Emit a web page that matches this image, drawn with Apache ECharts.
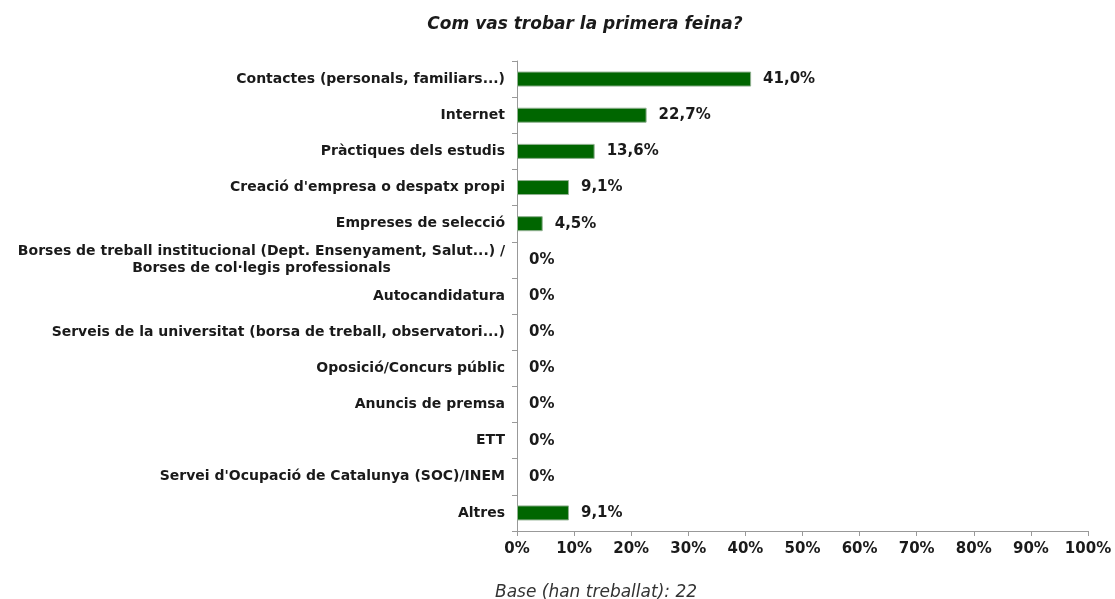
<!DOCTYPE html>
<html>
<head>
<meta charset="utf-8">
<script src="https://cdn.jsdelivr.net/npm/echarts@6/dist/echarts.min.js"></script>
<style>
  html, body { margin: 0; padding: 0; background: #fff; }
  #main { width: 1115px; height: 599px; }
</style>
</head>
<body>
<div id="main"></div>
<script>
var categories = [
  "Contactes (personals, familiars...)",
  "Internet",
  "Pràctiques dels estudis",
  "Creació d'empresa o despatx propi",
  "Empreses de selecció",
  "Borses de treball institucional (Dept. Ensenyament, Salut...) /\nBorses de col·legis professionals",
  "Autocandidatura",
  "Serveis de la universitat (borsa de treball, observatori...)",
  "Oposició/Concurs públic",
  "Anuncis de premsa",
  "ETT",
  "Servei d'Ocupació de Catalunya (SOC)/INEM",
  "Altres"
];
var values = [41.0, 22.7, 13.6, 9.1, 4.5, 0, 0, 0, 0, 0, 0, 0, 9.1];
var xTicks = [0, 10, 20, 30, 40, 50, 60, 70, 80, 90, 100];

var font = "DejaVu Sans, Verdana, sans-serif";
var dom = document.getElementById("main");
var myChart = echarts.init(dom, null, { renderer: "canvas" });

function pct(v) {
  if (v === 0) return "0%";
  return v.toFixed(1).replace(".", ",") + "%";
}

// zero bars get no outline, otherwise a thin line shows at the axis
var barData = values.map(function (v) {
  return v === 0 ? { value: v, itemStyle: { borderWidth: 0 } } : v;
});

var option = {
  backgroundColor: "#fff",
  title: [
    {
      text: "Com vas trobar la primera feina?",
      left: 580,
      top: 11,
      textAlign: "center",
      textStyle: { fontFamily: font, fontSize: 17, fontStyle: "italic", fontWeight: "bold", color: "#1a1a1a" }
    },
    {
      text: "Base (han treballat): 22",
      left: 591,
      top: 579,
      textAlign: "center",
      textStyle: { fontFamily: font, fontSize: 17, fontStyle: "italic", fontWeight: "normal", color: "#333" }
    }
  ],
  grid: { left: 517, right: 27, top: 61, bottom: 68, containLabel: false },
  xAxis: {
    type: "value",
    min: 0,
    max: 100,
    interval: 10,
    splitLine: { show: false },
    axisLine: { show: true, lineStyle: { color: "#999", width: 1 } },
    axisTick: { show: true, length: 5, lineStyle: { color: "#999" } },
    axisLabel: {
      margin: 11,
      fontFamily: font,
      fontSize: 15,
      fontWeight: "bold",
      color: "#1a1a1a",
      formatter: function (v) { return xTicks.indexOf(v) >= 0 ? v + "%" : ""; }
    }
  },
  yAxis: {
    type: "category",
    data: categories,
    inverse: true,
    axisLine: { show: true, lineStyle: { color: "#999", width: 1 } },
    axisTick: { show: true, length: 5, lineStyle: { color: "#999" } },
    axisLabel: {
      margin: 12,
      fontFamily: font,
      fontSize: 14,
      fontWeight: "bold",
      color: "#1a1a1a",
      formatter: function (v) {
        if (v.indexOf("\n") >= 0) {
          return v.split("\n").map(function (s) { return "{c|" + s + "}"; }).join("\n");
        }
        return v;
      },
      rich: {
        c: { width: 487, align: "center", fontFamily: font, fontSize: 14, fontWeight: "bold", color: "#1a1a1a", lineHeight: 17 }
      }
    }
  },
  series: [
    {
      type: "bar",
      data: barData,
      barWidth: 15,
      itemStyle: { color: "#006600", borderColor: "#8fb08f", borderWidth: 1 },
      label: {
        show: true,
        position: "right",
        distance: 12,
        fontFamily: font,
        fontSize: 15,
        fontWeight: "bold",
        color: "#1a1a1a",
        formatter: function (p) { return pct(p.value); }
      }
    }
  ]
};

myChart.setOption(option);
window.addEventListener("resize", myChart.resize);
</script>
</body>
</html>
